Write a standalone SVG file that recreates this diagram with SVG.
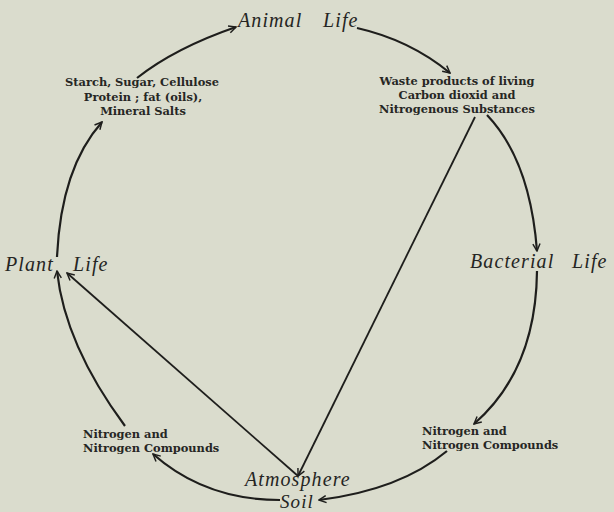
<svg xmlns="http://www.w3.org/2000/svg" width="614" height="512" viewBox="0 0 614 512">
<defs>
<marker id="ah" viewBox="0 0 10 10" refX="9" refY="5" markerWidth="9" markerHeight="9" markerUnits="userSpaceOnUse" orient="auto">
<path d="M1,1 L9,5 L1,9" fill="none" stroke="#1e1e1c" stroke-width="1.6"/>
</marker>
<style>
.big{font-family:"Liberation Serif","Times New Roman",serif;font-style:italic;font-size:20px;letter-spacing:1.1px;fill:#252523}
.sm{font-family:"DejaVu Serif","Liberation Serif",serif;font-weight:bold;font-size:11.4px;fill:#262624}
.arc{fill:none;stroke:#1e1e1c;stroke-width:2.2;marker-end:url(#ah)}
.ln{fill:none;stroke:#1e1e1c;stroke-width:1.8;marker-end:url(#ah)}
</style>
</defs>
<rect width="614" height="512" fill="#dadccd"/>
<g id="connectors">
<path class="arc" d="M57,257 Q61,168 102,122"/>
<path class="arc" d="M137,78 Q175,48 236,27"/>
<path class="arc" d="M357,28 Q410,40 450,73"/>
<path class="arc" d="M487,115 Q530,160 537,251"/>
<path class="arc" d="M537,271 Q536,370 474,424"/>
<path class="arc" d="M447,451 Q400,490 319,500"/>
<path class="arc" d="M280,500 Q205,500 153,454"/>
<path class="arc" d="M125,426 Q65,345 57,271"/>
<path class="ln" d="M475,117 L298,476"/>
<path class="ln" d="M298,476 L67,273"/>
</g>
<g id="animal-life"><text class="big" x="238" y="27">Animal</text><text class="big" x="323" y="27">Life</text></g>
<g id="plant-life"><text class="big" x="5" y="271">Plant</text><text class="big" x="73" y="271">Life</text></g>
<g id="bacterial-life"><text class="big" x="470" y="268">Bacterial</text><text class="big" x="572" y="268">Life</text></g>
<g id="atmosphere-soil"><text class="big" x="245" y="486">Atmosphere</text><text class="big" x="280" y="507.5" style="font-size:19px">Soil</text></g>
<g id="plant-products" text-anchor="middle">
<text class="sm" x="142" y="86">Starch, Sugar, Cellulose</text>
<text class="sm" x="143" y="101">Protein ; fat (oils),</text>
<text class="sm" x="143" y="115">Mineral Salts</text>
</g>
<g id="waste-products" text-anchor="middle">
<text class="sm" x="457" y="85">Waste products of living</text>
<text class="sm" x="457" y="99">Carbon dioxid  and</text>
<text class="sm" x="457" y="113">Nitrogenous Substances</text>
</g>
<g id="nitrogen-left">
<text class="sm" x="83" y="438">Nitrogen and</text>
<text class="sm" x="83" y="452">Nitrogen Compounds</text>
</g>
<g id="nitrogen-right">
<text class="sm" x="422" y="435">Nitrogen and</text>
<text class="sm" x="422" y="449">Nitrogen Compounds</text>
</g>
</svg>
